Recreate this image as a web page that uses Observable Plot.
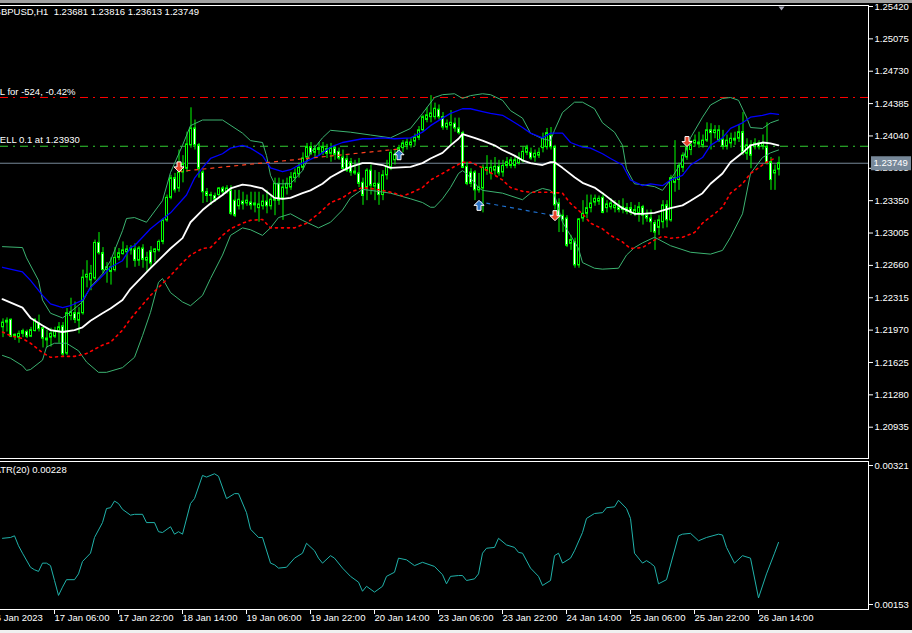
<!DOCTYPE html>
<html><head><meta charset="utf-8">
<script src="https://cdn.jsdelivr.net/npm/d3@7"></script>
<script src="https://cdn.jsdelivr.net/npm/@observablehq/plot@0.6"></script>
<style>
html,body{margin:0;padding:0;background:#000;}
#wrap{position:relative;width:912px;height:633px;background:#000;overflow:hidden;}
#main{position:absolute;left:0;top:0;}
#atr{position:absolute;left:0;top:460px;}
#topbar{position:absolute;left:0;top:0;width:912px;height:3px;background:#a0a0a0;}
#botbar{position:absolute;left:0;top:630px;width:912px;height:3px;background:#f0f0f0;}
svg{display:block;}
</style></head><body>
<div id="wrap"><div id="main"></div><div id="atr"></div><div id="topbar"></div><div id="botbar"></div></div>
<script>
const titleText = "GBPUSD,H1\u00a0\u00a01.23681 1.23816 1.23613 1.23749";
const atrLabel = "ATR(20) 0.00228";
const slLabel = "SL for -524, -0.42%";
const sellLabel = "SELL 0.1 at 1.23930";
const slPrice = 1.24450;
const sellPrice = 1.23930;

const opens = [1.2200,1.2205,1.2208,1.2190,1.2189,1.2193,1.2195,1.2190,1.2196,1.2204,
1.2199,1.2188,1.2189,1.2190,1.2195,1.2201,1.2172,1.2212,1.2215,1.2207,
1.2215,1.2253,1.2250,1.2252,1.2290,1.2279,1.2261,1.2259,1.2261,1.2274,
1.2278,1.2280,1.2282,1.2283,1.2271,1.2284,1.2271,1.2281,1.2280,1.2282,
1.2291,1.2314,1.2338,1.2359,1.2348,1.2365,1.2369,1.2394,1.2412,1.2394,
1.2365,1.2344,1.2340,1.2340,1.2341,1.2348,1.2344,1.2346,1.2335,1.2329,
1.2334,1.2332,1.2333,1.2330,1.2327,1.2329,1.2334,1.2329,1.2335,1.2353,
1.2337,1.2348,1.2349,1.2359,1.2363,1.2370,1.2381,1.2392,1.2386,1.2389,
1.2386,1.2390,1.2385,1.2391,1.2387,1.2381,1.2379,1.2376,1.2366,1.2364,
1.2354,1.2349,1.2367,1.2350,1.2353,1.2341,1.2362,1.2370,1.2378,1.2385,
1.2391,1.2394,1.2394,1.2398,1.2402,1.2410,1.2421,1.2424,1.2424,1.2432,
1.2424,1.2413,1.2415,1.2417,1.2412,1.2407,1.2371,1.2365,1.2365,1.2346,
1.2348,1.2367,1.2364,1.2367,1.2371,1.2365,1.2372,1.2372,1.2372,1.2375,
1.2377,1.2386,1.2386,1.2381,1.2383,1.2391,1.2392,1.2404,1.2392,1.2332,
1.2319,1.2316,1.2289,1.2291,1.2266,1.2316,1.2321,1.2327,1.2333,1.2334,
1.2338,1.2327,1.2328,1.2327,1.2328,1.2325,1.2327,1.2327,1.2321,1.2321,
1.2328,1.2319,1.2316,1.2311,1.2306,1.2312,1.2330,1.2314,1.2354,1.2357,
1.2370,1.2381,1.2389,1.2396,1.2397,1.2394,1.2399,1.2410,1.2407,1.2399,
1.2400,1.2393,1.2396,1.2399,1.2401,1.2408,1.2385,1.2394,1.2392,1.2396,
1.2393,1.2392,1.2376,1.2364,1.23681];
const highs = [1.2209,1.2210,1.2209,1.2193,1.2196,1.2198,1.2197,1.2200,1.2209,1.2213,
1.2200,1.2197,1.2199,1.2200,1.2205,1.2205,1.2220,1.2231,1.2227,1.2221,
1.2261,1.2271,1.2266,1.2293,1.2301,1.2285,1.2269,1.2274,1.2285,1.2284,
1.2291,1.2287,1.2287,1.2289,1.2286,1.2288,1.2280,1.2286,1.2284,1.2293,
1.2316,1.2341,1.2362,1.2364,1.2389,1.2383,1.2408,1.2434,1.2421,1.2396,
1.2367,1.2348,1.2344,1.2343,1.2349,1.2350,1.2351,1.2351,1.2346,1.2346,
1.2344,1.2341,1.2344,1.2344,1.2344,1.2341,1.2346,1.2341,1.2359,1.2359,
1.2357,1.2359,1.2365,1.2369,1.2375,1.2386,1.2396,1.2397,1.2394,1.2397,
1.2397,1.2395,1.2396,1.2394,1.2391,1.2389,1.2383,1.2380,1.2378,1.2380,
1.2359,1.2369,1.2373,1.2367,1.2365,1.2367,1.2378,1.2389,1.2389,1.2394,
1.2399,1.2401,1.2401,1.2406,1.2414,1.2426,1.2434,1.2447,1.2439,1.2437,
1.2429,1.2421,1.2431,1.2423,1.2423,1.2409,1.2376,1.2369,1.2367,1.2364,
1.2373,1.2383,1.2378,1.2381,1.2378,1.2378,1.2381,1.2381,1.2383,1.2386,
1.2392,1.2394,1.2391,1.2389,1.2391,1.2407,1.2412,1.2413,1.2394,1.2337,
1.2325,1.2319,1.2298,1.2295,1.2316,1.2335,1.2341,1.2341,1.2341,1.2340,
1.2343,1.2335,1.2337,1.2335,1.2335,1.2337,1.2332,1.2333,1.2330,1.2333,
1.2330,1.2325,1.2325,1.2314,1.2319,1.2335,1.2335,1.2362,1.2399,1.2375,
1.2386,1.2394,1.2399,1.2405,1.2408,1.2405,1.2418,1.2417,1.2415,1.2415,
1.2410,1.2405,1.2407,1.2408,1.2415,1.2429,1.2401,1.2399,1.2401,1.2399,
1.2405,1.2418,1.2381,1.2373,1.23816];
const lows = [1.2189,1.2195,1.2189,1.2186,1.2183,1.2189,1.2188,1.2189,1.2195,1.2195,
1.2178,1.2178,1.2179,1.2188,1.2183,1.2168,1.2170,1.2207,1.2204,1.2193,
1.2213,1.2242,1.2239,1.2250,1.2277,1.2257,1.2247,1.2245,1.2259,1.2271,
1.2277,1.2263,1.2277,1.2264,1.2265,1.2263,1.2259,1.2263,1.2269,1.2280,
1.2288,1.2312,1.2336,1.2343,1.2344,1.2354,1.2365,1.2391,1.2389,1.2359,
1.2332,1.2333,1.2330,1.2333,1.2337,1.2340,1.2342,1.2319,1.2317,1.2325,
1.2325,1.2329,1.2325,1.2322,1.2312,1.2325,1.2321,1.2325,1.2319,1.2330,
1.2314,1.2341,1.2346,1.2354,1.2359,1.2367,1.2376,1.2383,1.2380,1.2382,
1.2383,1.2380,1.2376,1.2378,1.2378,1.2367,1.2365,1.2361,1.2362,1.2349,
1.2330,1.2335,1.2341,1.2335,1.2330,1.2335,1.2357,1.2367,1.2373,1.2380,
1.2386,1.2389,1.2391,1.2393,1.2399,1.2408,1.2418,1.2418,1.2421,1.2421,
1.2410,1.2410,1.2394,1.2408,1.2405,1.2369,1.2351,1.2349,1.2335,1.2343,
1.2322,1.2362,1.2357,1.2362,1.2361,1.2360,1.2369,1.2369,1.2369,1.2373,
1.2375,1.2383,1.2378,1.2376,1.2380,1.2386,1.2389,1.2389,1.2325,1.2301,
1.2301,1.2285,1.2282,1.2263,1.2263,1.2312,1.2316,1.2322,1.2329,1.2330,
1.2321,1.2322,1.2325,1.2322,1.2322,1.2321,1.2320,1.2319,1.2318,1.2312,
1.2309,1.2312,1.2301,1.2282,1.2298,1.2305,1.2306,1.2312,1.2344,1.2346,
1.2365,1.2378,1.2383,1.2392,1.2391,1.2391,1.2397,1.2389,1.2401,1.2397,
1.2389,1.2389,1.2391,1.2394,1.2397,1.2383,1.2378,1.2369,1.2389,1.2389,
1.2389,1.2373,1.2346,1.2346,1.23613];
const closes = [1.2205,1.2207,1.2190,1.2192,1.2193,1.2196,1.2190,1.2197,1.2208,1.2198,
1.2188,1.2186,1.2193,1.2196,1.2200,1.2171,1.2215,1.2216,1.2208,1.2215,
1.2253,1.2256,1.2257,1.2290,1.2279,1.2261,1.2264,1.2264,1.2274,1.2279,
1.2282,1.2283,1.2284,1.2271,1.2284,1.2272,1.2274,1.2268,1.2283,1.2291,
1.2314,1.2338,1.2359,1.2346,1.2365,1.2374,1.2395,1.2412,1.2394,1.2369,
1.2344,1.2340,1.2341,1.2336,1.2348,1.2344,1.2348,1.2321,1.2319,1.2336,
1.2331,1.2335,1.2330,1.2332,1.2331,1.2334,1.2329,1.2336,1.2353,1.2335,
1.2349,1.2353,1.2360,1.2364,1.2370,1.2380,1.2392,1.2385,1.2390,1.2391,
1.2392,1.2385,1.2391,1.2384,1.2380,1.2369,1.2367,1.2365,1.2364,1.2353,
1.2340,1.2367,1.2351,1.2353,1.2341,1.2362,1.2371,1.2386,1.2384,1.2391,
1.2396,1.2397,1.2397,1.2402,1.2410,1.2424,1.2426,1.2428,1.2433,1.2424,
1.2413,1.2417,1.2418,1.2412,1.2407,1.2370,1.2353,1.2353,1.2346,1.2349,
1.2370,1.2370,1.2370,1.2371,1.2364,1.2372,1.2376,1.2378,1.2378,1.2380,
1.2387,1.2391,1.2380,1.2385,1.2386,1.2401,1.2407,1.2392,1.2330,1.2317,
1.2314,1.2287,1.2293,1.2266,1.2315,1.2321,1.2327,1.2332,1.2337,1.2337,
1.2322,1.2331,1.2332,1.2330,1.2325,1.2328,1.2323,1.2322,1.2325,1.2328,
1.2319,1.2316,1.2312,1.2301,1.2314,1.2330,1.2314,1.2359,1.2359,1.2372,
1.2383,1.2391,1.2394,1.2399,1.2395,1.2399,1.2410,1.2407,1.2410,1.2410,
1.2393,1.2399,1.2401,1.2401,1.2408,1.2386,1.2394,1.2383,1.2396,1.2392,
1.2396,1.2375,1.2357,1.2367,1.23749];

const upperBars = [0,5,6,9,10,12,15,16,20,22,25,27,30,31,33,36,40,42,45,47,50,55,60,62,65,66,67,68,72,75,77,80,82,87,92,97,102,105,108,110,113,115,117,120,122,125,127,130,132,135,137,138,140,143,145,148,150,153,155,156,158,160,163,165,167,170,172,175,177,180,182,184,186,187,190,192,194];
const upperBand = [1.2286,1.2285,1.2274,1.2250,1.2229,1.2215,1.2210,1.2213,1.2227,1.2243,1.2257,1.2271,1.2303,1.2316,1.2317,1.2312,1.2335,1.2365,1.2394,1.2415,1.2421,1.2421,1.2407,1.2399,1.2397,1.2383,1.2362,1.2353,1.2353,1.2367,1.2386,1.2402,1.2410,1.2408,1.2405,1.2402,1.2412,1.2428,1.2445,1.2448,1.2449,1.2444,1.2447,1.2449,1.2448,1.2442,1.2431,1.2423,1.2407,1.2401,1.2399,1.2410,1.2429,1.2440,1.2440,1.2433,1.2418,1.2408,1.2394,1.2369,1.2353,1.2352,1.2350,1.2346,1.2357,1.2378,1.2402,1.2424,1.2437,1.2444,1.2445,1.2442,1.2424,1.2413,1.2412,1.2418,1.2421];
const lowerBars = [0,2,5,6,7,10,11,13,16,19,21,24,26,30,33,35,37,39,40,42,45,47,50,52,55,57,60,62,65,67,69,72,75,79,82,85,87,90,92,97,102,105,107,108,110,112,114,115,116,119,120,125,130,132,135,137,138,140,142,144,145,148,150,154,156,158,160,163,167,172,177,180,182,185,187,190,192,194];
const lowerBand = [1.2170,1.2167,1.2159,1.2154,1.2155,1.2165,1.2179,1.2183,1.2183,1.2175,1.2163,1.2152,1.2152,1.2157,1.2168,1.2191,1.2216,1.2248,1.2252,1.2237,1.2227,1.2223,1.2234,1.2252,1.2277,1.2298,1.2306,1.2304,1.2298,1.2306,1.2317,1.2321,1.2314,1.2306,1.2312,1.2325,1.2338,1.2347,1.2346,1.2343,1.2337,1.2333,1.2328,1.2328,1.2337,1.2349,1.2364,1.2367,1.2364,1.2349,1.2346,1.2343,1.2336,1.2343,1.2348,1.2346,1.2341,1.2312,1.2298,1.2284,1.2269,1.2263,1.2262,1.2263,1.2277,1.2285,1.2290,1.2296,1.2287,1.2280,1.2278,1.2282,1.2296,1.2321,1.2364,1.2381,1.2386,1.2389];
const whiteBars = [0,5,7,10,12,15,18,20,22,25,27,30,32,37,42,45,47,50,52,55,57,60,62,65,68,70,72,75,77,80,82,85,87,90,92,95,97,102,105,107,110,112,114,115,118,120,123,125,128,130,132,135,137,138,140,143,145,148,150,153,155,158,160,163,167,170,172,175,177,180,182,185,187,190,192,194];
const whiteLine = [1.2230,1.2221,1.2210,1.2202,1.2197,1.2195,1.2197,1.2200,1.2207,1.2215,1.2220,1.2229,1.2241,1.2263,1.2284,1.2295,1.2312,1.2325,1.2332,1.2341,1.2348,1.2352,1.2351,1.2348,1.2338,1.2337,1.2338,1.2343,1.2346,1.2353,1.2360,1.2367,1.2371,1.2375,1.2375,1.2373,1.2370,1.2371,1.2375,1.2380,1.2386,1.2394,1.2401,1.2406,1.2402,1.2399,1.2394,1.2389,1.2383,1.2378,1.2375,1.2373,1.2376,1.2376,1.2370,1.2360,1.2354,1.2349,1.2343,1.2333,1.2327,1.2321,1.2321,1.2322,1.2327,1.2330,1.2335,1.2343,1.2353,1.2364,1.2376,1.2386,1.2394,1.2397,1.2396,1.2394];
const blueBars = [0,5,7,10,12,15,17,20,22,25,27,30,32,33,37,42,46,48,50,52,55,57,60,62,65,67,70,72,75,79,82,85,90,92,95,98,102,105,107,110,112,115,117,120,122,125,127,130,132,135,137,140,142,145,147,150,152,155,157,160,162,165,167,170,172,175,177,180,182,185,187,190,192,194];
const blueLine = [1.2264,1.2259,1.2250,1.2234,1.2225,1.2221,1.2223,1.2229,1.2242,1.2255,1.2264,1.2271,1.2285,1.2287,1.2305,1.2322,1.2341,1.2359,1.2370,1.2380,1.2385,1.2391,1.2394,1.2391,1.2383,1.2370,1.2366,1.2368,1.2375,1.2383,1.2392,1.2397,1.2401,1.2401,1.2402,1.2401,1.2402,1.2408,1.2415,1.2423,1.2428,1.2433,1.2433,1.2430,1.2428,1.2426,1.2421,1.2413,1.2407,1.2402,1.2407,1.2407,1.2397,1.2392,1.2391,1.2385,1.2380,1.2373,1.2357,1.2351,1.2353,1.2351,1.2357,1.2362,1.2373,1.2381,1.2394,1.2402,1.2412,1.2418,1.2424,1.2426,1.2428,1.2427];
const redBars = [0,2,5,7,10,12,15,18,21,25,27,30,32,37,42,45,47,50,52,55,57,60,62,65,67,70,73,76,79,82,85,87,90,92,95,98,100,102,105,107,110,112,115,117,120,122,125,127,130,132,135,137,140,142,145,147,150,152,155,157,160,163,165,167,170,173,175,178,180,182,185,187,189,191,193];
const redLine = [1.2195,1.2191,1.2188,1.2183,1.2173,1.2168,1.2169,1.2169,1.2172,1.2181,1.2184,1.2197,1.2209,1.2234,1.2255,1.2269,1.2277,1.2284,1.2285,1.2298,1.2305,1.2311,1.2314,1.2315,1.2306,1.2306,1.2306,1.2311,1.2321,1.2333,1.2338,1.2344,1.2349,1.2348,1.2346,1.2343,1.2340,1.2343,1.2349,1.2357,1.2364,1.2369,1.2376,1.2376,1.2370,1.2365,1.2357,1.2349,1.2345,1.2344,1.2344,1.2344,1.2343,1.2332,1.2321,1.2311,1.2305,1.2298,1.2291,1.2284,1.2285,1.2293,1.2297,1.2295,1.2296,1.2301,1.2311,1.2321,1.2328,1.2343,1.2353,1.2364,1.2370,1.2376,1.2380];

const atrBars = [0,2,3,4,5,7,8,9,10,11,12,13,14,15,16,18,19,20,22,23,25,26,27,28,29,30,32,33,35,36,38,39,40,42,43,44,45,47,48,50,51,53,54,56,58,59,61,62,64,65,67,68,69,71,73,75,76,78,79,80,82,83,85,87,89,90,91,93,95,96,98,99,101,103,105,108,110,111,112,114,115,116,118,119,120,121,123,124,126,128,129,130,132,134,135,137,138,139,140,142,143,145,146,148,150,151,153,154,156,157,158,160,161,162,163,164,166,169,170,172,174,176,179,180,181,183,185,187,189,191,193,194];
const atrValues = [0.00233,0.00234,0.00236,0.00224,0.00215,0.00198,0.00195,0.00193,0.00203,0.00203,0.00200,0.00182,0.00164,0.00174,0.00183,0.00183,0.00190,0.00205,0.00215,0.00234,0.00252,0.00269,0.00270,0.00278,0.00275,0.00268,0.00261,0.00262,0.00262,0.00252,0.00252,0.00241,0.00240,0.00247,0.00238,0.00241,0.00238,0.00275,0.00281,0.00309,0.00307,0.00311,0.00308,0.00281,0.00287,0.00287,0.00264,0.00244,0.00234,0.00234,0.00203,0.00201,0.00197,0.00198,0.00209,0.00215,0.00227,0.00218,0.00209,0.00203,0.00212,0.00209,0.00197,0.00187,0.00180,0.00169,0.00175,0.00168,0.00175,0.00187,0.00192,0.00209,0.00207,0.00200,0.00204,0.00199,0.00189,0.00178,0.00187,0.00188,0.00188,0.00182,0.00184,0.00190,0.00215,0.00221,0.00222,0.00233,0.00225,0.00222,0.00216,0.00215,0.00197,0.00187,0.00176,0.00182,0.00212,0.00215,0.00203,0.00209,0.00218,0.00240,0.00257,0.00263,0.00264,0.00270,0.00271,0.00279,0.00269,0.00257,0.00215,0.00203,0.00206,0.00203,0.00199,0.00178,0.00183,0.00236,0.00238,0.00239,0.00230,0.00234,0.00238,0.00237,0.00222,0.00203,0.00212,0.00209,0.00161,0.00190,0.00215,0.00228];

const tradeEntryBars = [44, 119];
const tradeEntryPrices = [1.2366, 1.2334];
const tradeExitBars = [99, 138];
const tradeExitPrices = [1.2390, 1.2319];
const tradeSides = ["sell", "buy"];
const arrowBars = [44, 99, 119, 138, 171];
const arrowPrices = [1.2371, 1.2384, 1.2330, 1.2319, 1.2398];
const arrowSides = ["sell", "buy", "buy", "sell", "sell"];

const priceTicks = [1.25420,1.25075,1.24730,1.24385,1.24040,1.23695,1.23350,1.23005,1.22660,1.22315,1.21970,1.21625,1.21280,1.20935];
const atrTicks = [0.00321, 0.00153];
const timeTicks = [-3,13,29,45,61,77,93,109,125,141,157,173,189];
const timeLabels = ["16 Jan 2023","17 Jan 06:00","17 Jan 22:00","18 Jan 14:00","19 Jan 06:00","19 Jan 22:00","20 Jan 14:00","23 Jan 06:00","23 Jan 22:00","24 Jan 14:00","25 Jan 06:00","25 Jan 22:00","26 Jan 14:00"];

// ---- build tables
const bars = opens.map((o, i) => ({k: i, open: o, high: highs[i], low: lows[i], close: closes[i]}));
const zip = (ks, vs) => ks.map((k, i) => ({k, v: vs[i]}));
const trades = tradeEntryBars.map((k, i) => ({k1: k, p1: tradeEntryPrices[i], k2: tradeExitBars[i], p2: tradeExitPrices[i], side: tradeSides[i]}));
const arrows = arrowBars.map((k, i) => ({k, p: arrowPrices[i], side: arrowSides[i]}));
const lastClose = closes[closes.length - 1];
const lastBar = closes.length - 1;
const labelMap = new Map(timeTicks.map((t, i) => [t, timeLabels[i]]));

const arrowDown = {draw(ctx) { ctx.moveTo(-2,-5); ctx.lineTo(2,-5); ctx.lineTo(2,0); ctx.lineTo(5,0); ctx.lineTo(0,5); ctx.lineTo(-5,0); ctx.lineTo(-2,0); ctx.closePath(); }};
const arrowUp = {draw(ctx) { ctx.moveTo(-2,5); ctx.lineTo(2,5); ctx.lineTo(2,0); ctx.lineTo(5,0); ctx.lineTo(0,-5); ctx.lineTo(-5,0); ctx.lineTo(-2,0); ctx.closePath(); }};
const boxSym = {draw(ctx) { ctx.rect(-20,-7,40,14); }};
const shiftSym = {draw(ctx) { ctx.moveTo(-3,-2); ctx.lineTo(3,-2); ctx.lineTo(0,2); ctx.closePath(); }};

const font = "'Liberation Sans', Arial, sans-serif";
const xScale = {domain: [-0.5, 216.5], axis: null};
const dash = "8,5,2,5";

const mainChart = Plot.plot({
  width: 912, height: 460,
  marginLeft: 0, marginRight: 44, marginTop: 5, marginBottom: 2,
  style: {background: "#000", color: "#fff", fontFamily: font, fontSize: "9.5px", overflow: "visible"},
  x: xScale,
  y: {domain: [1.20935, 1.25420], insetTop: 1, insetBottom: 31.3, axis: null},
  marks: [
    Plot.ruleY([lastClose], {stroke: "#778899"}),
    Plot.ruleY([slPrice], {stroke: "#ff0000", strokeDasharray: dash}),
    Plot.ruleY([sellPrice], {stroke: "#32cd32", strokeDasharray: dash}),
    Plot.text([{p: slPrice, t: slLabel}], {y: "p", text: "t", frameAnchor: "left", textAnchor: "start", dx: -7, dy: -6, fill: "#fff"}),
    Plot.text([{p: sellPrice, t: sellLabel}], {y: "p", text: "t", frameAnchor: "left", textAnchor: "start", dx: -7, dy: -6, fill: "#fff"}),
    Plot.ruleX(bars, {x: "k", y1: "low", y2: "high", stroke: "#00ff00", dx: 0.5}),
    Plot.rect(bars, {x1: d => d.k - 0.25, x2: d => d.k + 0.25, y1: "open", y2: "close", dx: 0.5,
      fill: d => d.close < d.open ? "#ffffff" : "#000000", stroke: "#00ff00"}),
    Plot.line(zip(upperBars, upperBand), {x: "k", y: "v", stroke: "#3cb371", strokeWidth: 1}),
    Plot.line(zip(lowerBars, lowerBand), {x: "k", y: "v", stroke: "#3cb371", strokeWidth: 1}),
    Plot.line(zip(redBars, redLine), {x: "k", y: "v", stroke: "#ff0000", strokeWidth: 1.6, strokeDasharray: "2,4"}),
    Plot.line(zip(blueBars, blueLine), {x: "k", y: "v", stroke: "#0000ff", strokeWidth: 1.3}),
    Plot.line(zip(whiteBars, whiteLine), {x: "k", y: "v", stroke: "#ffffff", strokeWidth: 1.8}),
    Plot.link(trades, {x1: "k1", y1: "p1", x2: "k2", y2: "p2", stroke: d => d.side === "sell" ? "#ff4020" : "#1e70d0", strokeDasharray: "4,4", strokeWidth: 1.2}),
    Plot.dot(arrows.filter(d => d.side === "sell"), {x: "k", y: "p", symbol: arrowDown, fill: "#e8452c", stroke: "#fff", strokeWidth: 1, dx: 0.5}),
    Plot.dot(arrows.filter(d => d.side === "buy"), {x: "k", y: "p", symbol: arrowUp, fill: "#2b74c7", stroke: "#fff", strokeWidth: 1, dx: 0.5}),
    Plot.text([titleText], {frameAnchor: "top-left", dx: -7, dy: 3, lineAnchor: "top", textAnchor: "start", fill: "#fff"}),
    Plot.dot([lastBar], {x: d => d, frameAnchor: "top", dx: 3, dy: 3, symbol: shiftSym, fill: "#a8a8b8"}),
    Plot.axisY({ticks: priceTicks, anchor: "right", label: null, tickFormat: d => d.toFixed(5), tickSize: 4, tickPadding: 2, stroke: "#fff", fill: "#fff"}),
    Plot.dot([lastClose], {y: d => d, frameAnchor: "right", dx: 22.5, symbol: boxSym, fill: "#778899"}),
    Plot.text([lastClose], {y: d => d, frameAnchor: "right", dx: 5, text: d => d.toFixed(5), textAnchor: "start", fill: "#fff"}),
    Plot.frame({anchor: "top", stroke: "#fff"}),
    Plot.frame({anchor: "right", stroke: "#fff"}),
    Plot.frame({anchor: "bottom", stroke: "#fff"})
  ]
});
document.getElementById("main").appendChild(mainChart);

const atrChart = Plot.plot({
  width: 912, height: 173,
  marginLeft: 0, marginRight: 44, marginTop: 1, marginBottom: 24,
  style: {background: "#000", color: "#fff", fontFamily: font, fontSize: "9.5px", overflow: "visible"},
  x: xScale,
  y: {domain: [atrTicks[1], atrTicks[0]], insetTop: 4, insetBottom: 5, axis: null},
  marks: [
    Plot.line(zip(atrBars, atrValues), {x: "k", y: "v", stroke: "#20b2aa", strokeWidth: 1}),
    Plot.text([atrLabel], {frameAnchor: "top-left", dx: -6, dy: 5, lineAnchor: "top", textAnchor: "start", fill: "#fff"}),
    Plot.axisY({ticks: atrTicks, anchor: "right", label: null, tickFormat: d => d.toFixed(5), tickSize: 4, tickPadding: 2, stroke: "#fff", fill: "#fff"}),
    Plot.axisX({ticks: timeTicks, anchor: "bottom", label: null, tickFormat: d => labelMap.get(d), tickSize: 5, tickPadding: 0, textAnchor: "start", stroke: "#fff", fill: "#fff"}),
    Plot.frame({anchor: "top", stroke: "#fff"}),
    Plot.frame({anchor: "right", stroke: "#fff"}),
    Plot.frame({anchor: "bottom", stroke: "#fff"})
  ]
});
document.getElementById("atr").appendChild(atrChart);
</script>
</body></html>
